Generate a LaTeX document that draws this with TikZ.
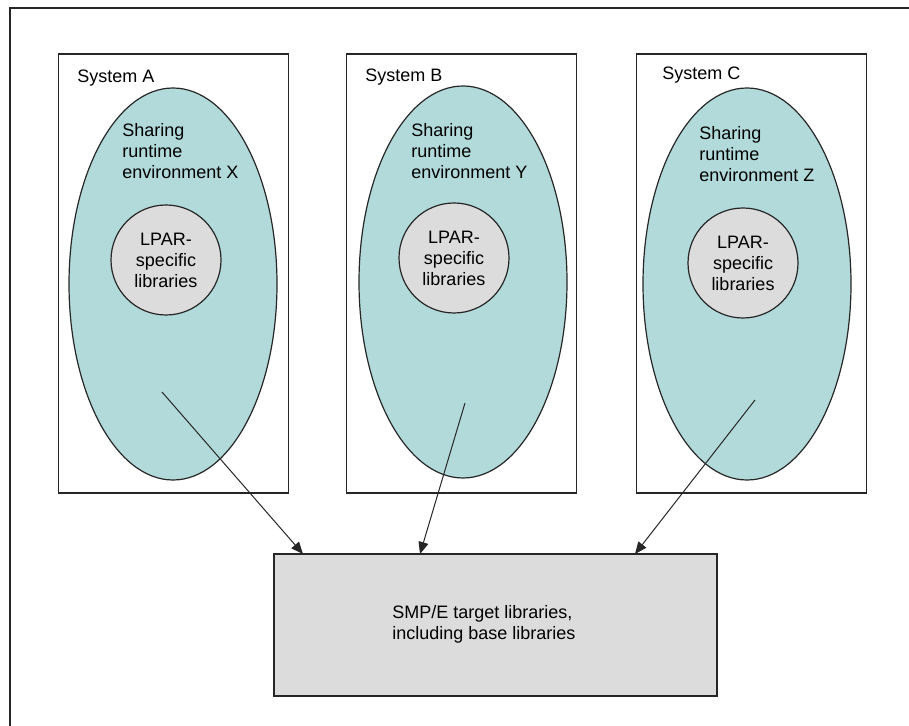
\documentclass[tikz,border=0pt]{standalone}
\usepackage{fontspec}
\setmainfont{Liberation Sans}
\usetikzlibrary{arrows.meta, shapes.geometric}
\definecolor{envteal}{HTML}{B2DADA}
\definecolor{libgray}{HTML}{DCDCDC}
\tikzset{
    sysbox/.style={draw=black!85, line width=0.8pt, minimum width=115pt, minimum height=219.5pt, inner sep=0pt},
    envshape/.style={ellipse, draw=black!85, line width=0.6pt, fill=envteal, minimum width=104pt, minimum height=196pt, inner sep=0pt},
    libshape/.style={circle, draw=black!85, line width=0.6pt, fill=libgray, minimum size=55pt, inner sep=0pt},
    smallfont/.style={font=\fontsize{9}{10.5}\selectfont, inner sep=0pt},
    link/.style={-{Triangle[length=6pt, width=5pt]}, line width=0.5pt, black!85}
}

\begin{document}
\begin{tikzpicture}[x=0.5pt, y=-0.5pt]
    \useasboundingbox (0,0) rectangle (909,726);
    \draw[line width=1pt, black!85] (909,8) -- (10,8) -- (10,726);
    \node[sysbox] (sysA) at (173.5,273.5) {};
    \node[sysbox] (sysB) at (461.5,273.5) {};
    \node[sysbox] (sysC) at (751.5,273.5) {};
    \node[smallfont, anchor=west] (labA) at (77,78) {System A};
    \node[smallfont, anchor=west] (labB) at (365,77) {System B};
    \node[smallfont, anchor=west] (labC) at (662,75) {System C};
    \node[envshape] (envA) at (173,284) {};
    \node[envshape] (envB) at (463,282) {};
    \node[envshape] (envC) at (747,284) {};
    \node[smallfont, anchor=west, align=left] (txtA) at (122,151) {Sharing\\runtime\\environment X};
    \node[smallfont, anchor=west, align=left] (txtB) at (411,151) {Sharing\\runtime\\environment Y};
    \node[smallfont, anchor=west, align=left] (txtC) at (699,154) {Sharing\\runtime\\environment Z};
    \node[libshape, smallfont, align=center] (libA) at (166,260) {LPAR-\\specific\\libraries};
    \node[libshape, smallfont, align=center] (libB) at (454,258) {LPAR-\\specific\\libraries};
    \node[libshape, smallfont, align=center] (libC) at (743,263) {LPAR-\\specific\\libraries};
    \node[draw=black!85, line width=0.8pt, fill=libgray, minimum width=221.5pt, minimum height=71pt, inner sep=0pt] (smpe) at (495.5,625) {};
    \node[smallfont, align=left, anchor=west] (smpetxt) at (392,624) {SMP/E target libraries,\\including base libraries};
    \coordinate (fromA) at (162,392);
    \coordinate (fromB) at (465,403);
    \coordinate (fromC) at (755,400);
    \coordinate (toA) at (303,554);
    \coordinate (toB) at (420,554);
    \coordinate (toC) at (635,554);
    \draw[link] (fromA) -- (toA);
    \draw[link] (fromB) -- (toB);
    \draw[link] (fromC) -- (toC);
\end{tikzpicture}
\end{document}
